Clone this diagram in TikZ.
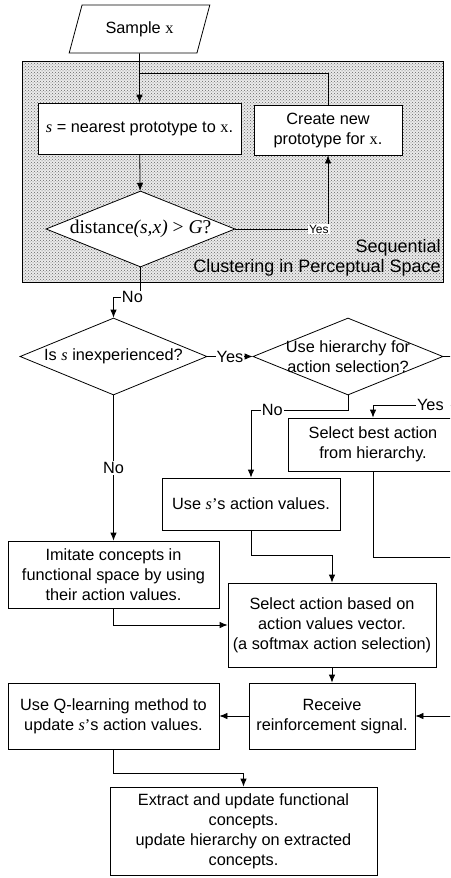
\documentclass[tikz,border=0pt]{standalone}
\usepackage{fontspec}
\setmainfont{Liberation Sans}
\newfontfamily\tms{Liberation Serif}
\usetikzlibrary{shapes.geometric,patterns,arrows.meta,calc}

% italic s and upright x of the formulas
\newcommand{\sv}{{\tms\itshape s}}
\newcommand{\xv}{{\tms x}}

\tikzset{
  >={Latex[length=8pt,width=6.5pt]},
  every node/.style={font=\fontsize{16.3}{20}\selectfont},
  box/.style={shape=rectangle,draw=black,fill=white,align=center,inner sep=0pt},
  decision/.style={shape=diamond,draw=black,fill=white,inner sep=0pt},
  cluster/.style={shape=rectangle,draw=black,inner sep=0pt,
    preaction={fill=black!8},pattern=crosshatch dots,pattern color=black!60},
  lbl/.style={fill=white,inner sep=1pt},
}

\begin{document}
\begin{tikzpicture}[x=1pt,y=-1pt,line width=0.8pt]
  \useasboundingbox (0,0) rectangle (450,878);
  \clip (0,0) rectangle (450,878);

  % clustering in perceptual space
  \node[cluster,minimum width=421pt,minimum height=221pt](clu) at (232.5,171.5) {};
  \node[align=right,anchor=south east,inner sep=0pt,font=\fontsize{18}{20}\selectfont](clutext) at (441,277)
    {Sequential\\Clustering in Perceptual Space};

  \node[shape=trapezium,draw=black,fill=white,trapezium left angle=63.4,trapezium right angle=116.6,
    trapezium stretches=true,minimum width=141pt,minimum height=48pt,inner sep=0pt](sample) at (139.5,29) {Sample \xv};
  \node[box,minimum width=203pt,minimum height=51pt](near) at (139.5,128.5) {\sv{} = nearest prototype to \xv.};
  \node[box,minimum width=148pt,minimum height=50pt](create) at (328,130) {Create new\\prototype for \xv.};
  \node[decision,minimum width=189pt,minimum height=76pt,
    label={center:{\fontsize{19.5}{22}\selectfont\tms distance\textit{(s,x)} > \textit{G}?}}](dist) at (140.5,229) {};

  % action selection
  \node[decision,minimum width=187pt,minimum height=77pt,
    label={center:Is \sv{} inexperienced?}](inexp) at (113.5,356.5) {};
  \node[decision,minimum width=190pt,minimum height=77pt,
    label={[align=center]center:Use hierarchy for\\action selection?}](hier) at (348,356.5) {};
  \node[box,minimum width=170pt,minimum height=53pt](best) at (373,444.5) {Select best action\\from hierarchy.};
  \node[box,minimum width=178pt,minimum height=52pt](own) at (251,504) {Use \sv{}{\tms ’}s action values.};
  \node[box,minimum width=211pt,minimum height=67pt](imit) at (113.5,574.5)
    {Imitate concepts in\\functional space by using\\their action values.};
  \node[box,minimum width=208pt,minimum height=84pt](select) at (332,625)
    {Select action based on\\action values vector.\\(a softmax action selection)};
  \node[box,minimum width=166pt,minimum height=66pt](reward) at (332,716) {Receive\\reinforcement signal.};
  \node[box,minimum width=211pt,minimum height=66pt](qlearn) at (113.5,716)
    {Use Q-learning method to\\update \sv{}{\tms ’}s action values.};
  \node[box,minimum width=267pt,minimum height=88pt](extract) at (243.5,831)
    {Extract and update functional\\concepts.\\update hierarchy on extracted\\concepts.};

  % loose ends on the right
  \coordinate (join) at (140,73);
  \coordinate (r1) at (470,356.5);
  \coordinate (r2) at (470,405);
  \coordinate (r3) at (470,557);
  \coordinate (r4) at (470,716);

  \draw[->] (sample) -- (near);
  \draw (create.north) |- (join);
  \draw[->] (near) -- (dist);
  \draw[->] (dist.east) -| node[lbl,pos=0.5,anchor=east,xshift=2pt,font=\fontsize{12}{14}\selectfont] {Yes} (create.south);
  \draw[->] (dist.south) -- ++(0,30) -| node[lbl,pos=0.15] {No} (inexp.north);
  \draw[->] (inexp.east) -- node[lbl] {Yes} (hier.west);
  \draw[->] (inexp.south) -- node[lbl] {No} (imit.north);
  \draw[->] (hier.south) -- ++(0,15) -| node[lbl,pos=0.39] {No} (own.north);
  \draw (hier.east) -- (r1) -- (r2);
  \draw[->] (r2) -| node[lbl,pos=0.28,anchor=west] {Yes\kern14pt} (best.north);
  \draw (best.south) |- (r3);
  \draw[->] (own.south) -- ++(0,25) -| (select.north);
  \draw[->] (imit.south) |- (select.west);
  \draw[->] (select) -- (reward);
  \draw[->] (r4) -- (reward.east);
  \draw[->] (reward) -- (qlearn);
  \draw[->] (qlearn.south) -- ++(0,24) -| (extract.north);
\end{tikzpicture}
\end{document}
